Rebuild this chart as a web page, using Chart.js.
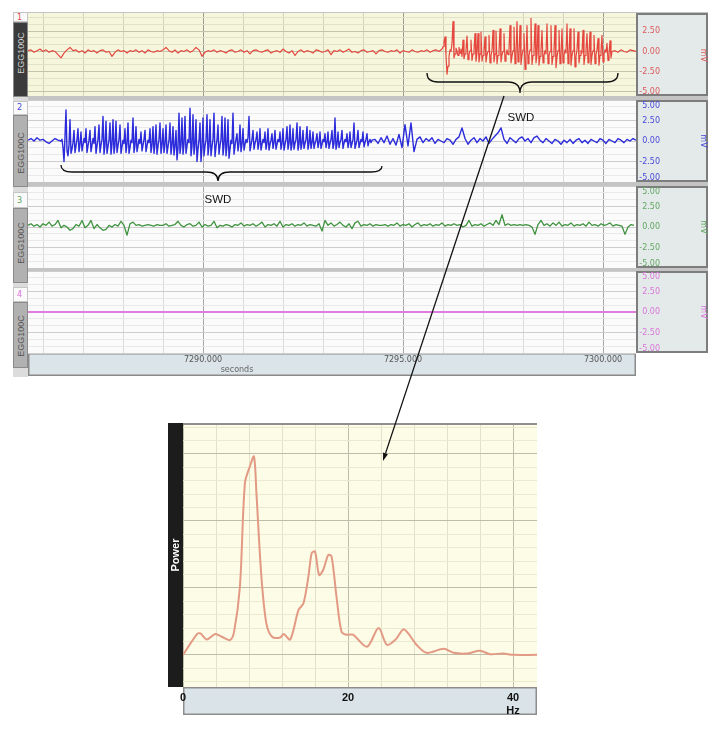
<!DOCTYPE html>
<html>
<head>
<meta charset="utf-8">
<script src="https://cdn.jsdelivr.net/npm/chart.js@4.4.1/dist/chart.umd.min.js"></script>
<style>
	html, body { margin: 0; padding: 0; background: #fff; }
	#wrap { position: relative; width: 724px; height: 729px; overflow: hidden; font-family: 'DejaVu Sans', sans-serif; }
	#wrap canvas { position: absolute; }
	.abs { position: absolute; }
	#top-bg { left: 28px; top: 12px; width: 680px; height: 341px; background: #c4c4c4; }
	#left-col { left: 13px; top: 12px; width: 15px; height: 365px; background: #dcdcdc; }
	.num { left: 13px; width: 15px; background: #fafafa; font-size: 8px; text-indent: 3px; box-sizing: border-box; border: 1px solid #c6c6c6; }
	.bar { left: 13px; width: 15px; box-sizing: border-box; border: 1px solid #8a8a8a; background: #b1b1b1; color: #555; }
	.bar.dark { background: #3b3b3b; color: #d4d4d4; }
	.bar span { position: absolute; left: 50%; white-space: nowrap; font-family: 'Liberation Sans', Arial, sans-serif; font-size: 9px; transform: translate(-50%, -50%) rotate(-90deg); }
	#secs { left: 237px; top: 365px; font-size: 8px; color: #666; transform: translateX(-50%); }
	#notes { position: absolute; left: 0; top: 0; }
</style>
</head>
<body>
<div id="wrap">
	<div id="top-bg" class="abs"></div>
	<div id="left-col" class="abs"></div>

	<div class="abs num" style="top:12px;height:10px;line-height:9px;color:#d94a4a">1</div>
	<div class="abs bar dark" style="top:22px;height:75px"><span style="top:30px">EGG100C</span></div>
	<div class="abs num" style="top:101px;height:14px;line-height:12px;color:#4747d8">2</div>
	<div class="abs bar" style="top:115px;height:72px"><span style="top:37px">EGG100C</span></div>
	<div class="abs num" style="top:192px;height:16px;line-height:15px;color:#5aa35a">3</div>
	<div class="abs bar" style="top:208px;height:75px"><span style="top:34px">EGG100C</span></div>
	<div class="abs num" style="top:287px;height:15px;line-height:14px;color:#d872d8">4</div>
	<div class="abs bar" style="top:302px;height:66px"><span style="top:33px">EGG100C</span></div>

	<canvas id="ch1" width="680" height="83" style="left:28px;top:13px"></canvas>
	<canvas id="ch2" width="680" height="82" style="left:28px;top:100px"></canvas>
	<canvas id="ch3" width="680" height="82" style="left:28px;top:186px"></canvas>
	<canvas id="ch4" width="680" height="105" style="left:28px;top:271px"></canvas>
	<div id="secs" class="abs">seconds</div>

	<canvas id="spec" width="369" height="292" style="left:168px;top:423px"></canvas>

	<svg id="notes" width="724" height="729">
		<g fill="none" stroke="#111" stroke-width="1.3">
			<path d="M427,73 Q427,82 438,82 L508,82 Q520,82 520,93 Q520,82 532,82 L607,82 Q618,82 618,73"/>
			<path d="M61,165 Q61,172 72,172 L206,172 Q218,172 218,181 Q218,172 230,172 L371,172 Q382,172 382,166"/>
			<line x1="504" y1="96" x2="385.5" y2="453.4"/>
		</g>
		<polygon points="383,461 387.9,454.2 383.1,452.6" fill="#111"/>
		<text x="521" y="121" font-family="Liberation Sans, Arial, sans-serif" font-size="11.5" text-anchor="middle" fill="#111">SWD</text>
		<text x="218" y="203" font-family="Liberation Sans, Arial, sans-serif" font-size="11.5" text-anchor="middle" fill="#111">SWD</text>
	</svg>
</div>

<script>
const T_MIN = 7285.625;
const T_MAX = 7300.825;
const timeTicks = [7290, 7295, 7300];
const mvTicks = [5, 2.5, 0, -2.5, -5];

// channel 1 (red)
const ch1BaseStart = 7285.625, ch1BaseStep = 0.075;
const ch1Base = [
	0.1, 0.2, -0.1, 0.1, 0.3, 0.0, 0.2, -0.1, 0.1, 0.0,
	-0.4, -0.8, -0.2, 0.2, 0.5, 0.1, 0.2, -0.1, 0.1, -0.2,
	0.2, 0.0, 0.1, -0.2, 0.1, 0.2, -0.1, 0.0, -0.6, -0.1,
	0.2, 0.0, 0.1, -0.2, 0.1, 0.0, 0.2, -0.1, 0.1, -0.2,
	0.2, 0.0, -0.1, 0.1, 0.0, 0.2, 0.5, 0.1, -0.1, 0.2,
	-0.2, 0.1, 0.0, 0.2, -0.1, 0.1, 0.5, 0.2, -0.6, -0.1,
	0.1, 0.0, 0.2, -0.1, 0.1, 0.0, -0.2, 0.1, 0.2, -0.1,
	0.0, 0.2, -0.1, 0.1, -0.3, 0.1, 0.2, 0.0, -0.1, 0.1,
	0.2, -0.2, 0.0, 0.1, -0.1, 0.3, 0.0, -0.2, 0.1, -0.5,
	0.0, 0.2, -0.1, 0.1, 0.0, -0.2, 0.2, 0.1, -0.1, 0.0,
	0.2, -0.4, 0.1, 0.0, 0.2, -0.1, 0.1, 0.3, -0.1, 0.0,
	-0.2, 0.1, 0.2, -0.1, 0.0, 0.1, -0.3, 0.1, 0.2, 0.0,
	-0.1, 0.1, 0.0, 0.2, -0.2, 0.1, 0.0, -0.1, 0.2, 0.0,
	-0.1, 0.1, 0.0, 0.2, -0.1, 0.1, 0.2, 0.0, 0.3
];
const ch1SwdStart = 7296.0, ch1SwdStep = 0.025;
const ch1Swd = [
	0.6, 1.2, 1.8, -0.5, -2.8, -1.8, -0.6, 0.2, 0.0, 1.0,
	3.7, -0.8, -0.3, 0.4, 0.1, -0.5, 0.5, -0.2, 0.3, -0.6,
	1.4, -0.9, -0.3, 0.2, 1.9, -1.0, -0.4, 0.1, 1.4, -1.1, -0.3, 0.2,
	2.2, -1.2, -0.2, 2.2, -1.3, -0.3, 2.4, -1.2, -0.5, 0.1,
	1.8, -1.3, -0.4, 0.0, 2.0, -1.4, -0.5, 0.1, 2.6, -1.3, -0.3,
	2.5, -1.5, -0.5, 0.1, 2.8, -1.3, -0.4, 0.0, 2.2, -1.2, -0.5, 0.2, -0.4, 0.3,
	3.2, -1.4, -0.6, 0.1, 3.0, -1.5, -0.4, 3.7, -1.3, -0.5,
	3.2, -1.6, -0.5, 0.2, 2.2, -2.2, -0.8, 3.2, -1.5, -0.5, 0.2,
	4.1, -1.6, -0.5, 0.1, 3.4, -1.4, -0.4, 3.2, -1.7, -0.6, 0.2,
	2.6, -1.4, -0.5, 0.1, -0.3, 3.4, -1.5, -0.5, 0.0, 3.2, -1.6, -0.6, 0.2,
	3.2, -2.0, -0.7, 0.1, 2.6, -1.5, -0.4, 2.8, -1.4, -0.5, 0.2, -0.2,
	3.4, -1.5, -0.4, 2.8, -1.7, -0.5, 0.1, 2.8, -1.9, -0.6, 0.2,
	2.4, -1.4, -0.5, 0.1, -0.2, 2.6, -1.6, -0.5, 0.2, 2.2, -1.4, -0.4,
	2.4, -1.6, -0.5, 0.1, 2.0, -1.5, -0.4, 0.2, 1.6, -1.7, -0.5, 0.1,
	2.0, -1.3, -0.4, 0.2, -0.1, 1.0, -1.1, -0.3, 1.3, -0.8, 0.0
];
const ch1TailStart = 7300.3, ch1TailStep = 0.075;
const ch1Tail = [0.1, -0.1, 0.2, 0.0, -0.1, 0.2, 0.1, 0.0];

// channel 2 (blue)
const ch2HeadStart = 7285.625, ch2HeadStep = 0.075;
const ch2Head = [0.1, 0.3, 0.0, 0.4, 0.1, 0.2, -0.1, -0.3, 0.0, 0.3, 0.1, 0.0];
const ch2SwdStart = 7286.475, ch2SwdStep = 0.025;
const ch2Swd = [
	0.2, -0.8, -2.5, 0.5, 3.8, -1.2, -1.8, -0.5, 2.6, -1.5,
	-1.0, -0.2, 1.3, -1.4, -0.6, 0.2, 1.5, -1.3, -0.4, 1.1,
	-1.2, -0.5, 0.3, -0.2, 1.5, -1.4, -0.6, 0.1, 1.3, -1.3,
	-0.5, 0.3, -0.3, 1.75, -1.5, -0.6, 0.2, 1.95, -1.4, -0.5,
	0.2, 3.0, -1.6, -0.5, 2.4, -1.5, -0.7, 0.1, 2.2, -1.6,
	-0.4, 2.6, -1.5, -0.5, 2.4, -1.4, -0.6, 0.2, 1.95, -1.5,
	-0.7, 0.1, -0.3, 1.5, -1.4, -0.4, 2.2, -1.5, -0.8, 0.1,
	-0.2, 2.8, -1.4, -0.5, 1.75, -1.3, -0.6, 0.2, -0.3, 1.1,
	-1.2, -0.5, 0.2, 1.3, -1.3, -0.6, 0.1, -0.2, 1.5, -1.4,
	-0.5, 1.75, -1.5, -0.4, 1.95, -1.6, -0.6, 0.2, 2.2, -1.5,
	-0.5, 1.5, -1.4, -0.4, 1.95, -1.5, -0.7, 0.1, 2.2, -1.6,
	-0.5, 1.75, -1.7, -0.6, 1.3, -2.3, -0.9, 3.4, -1.5, -0.5,
	2.8, -1.6, -0.4, 3.0, -1.5, -0.6, 0.2, -0.2, 4.0, -1.8,
	-0.6, 3.2, -1.6, -0.5, 2.6, -2.5, -1.0, 0.1, 2.2, -2.5,
	-0.8, 2.8, -1.8, -0.6, 0.1, 3.2, -1.7, -0.6, 2.6, -1.8,
	-0.7, 0.2, 3.4, -1.9, -0.7, 0.1, 1.95, -1.6, -0.6, 0.2,
	3.0, -1.7, -0.5, 2.8, -1.8, -0.6, 2.6, -2.1, -1.0, 0.1,
	-0.3, 3.4, -1.6, -0.6, 0.2, 0.9, -1.2, -0.3, 1.95, -1.3,
	-0.4, 1.5, -1.1, -0.4, 0.2, -0.2, 0.4, 3.0, -1.2, -0.5,
	0.2, 1.3, -1.0, -0.3, 0.2, 1.1, -1.0, -0.3, 1.5, -1.1,
	-0.4, 0.2, -0.2, 1.1, -1.0, -0.3, 1.5, -1.1, -0.4, 0.1,
	0.9, -0.9, -0.2, 1.3, -1.0, -0.4, 0.2, -0.1, 1.1, -1.0,
	-0.3, 1.5, -1.1, -0.4, 0.2, 1.75, -1.0, -0.3, 1.95, -1.1,
	-0.4, 1.5, -1.0, -0.3, 0.2, 2.2, -1.1, -0.4, 1.75, -1.0,
	-0.3, 1.3, -0.9, -0.3, 0.2, 1.75, -1.0, -0.3, 1.3, -0.9,
	-0.2, 1.1, -0.9, -0.3, 0.1, 0.9, -0.8, -0.2, 1.1, -0.9,
	-0.4, 0.2, -0.1, 0.9, -0.8, -0.2, 1.1, -0.9, -0.3, 0.2,
	1.3, -0.9, -0.3, 2.8, -1.0, -0.4, 1.1, -0.8, -0.2, 0.2,
	1.3, -0.9, -0.3, 0.2, -0.1, 0.9, -0.8, -0.2, 1.1, -0.8,
	-0.3, 0.2, 2.2, -0.9, -0.4, 0.1, 1.3, -0.8, -0.3, 0.2,
	-0.1, 1.1, -0.7, -0.2, 0.2, 0.9, -0.6, -0.1, 0.2, -0.2,
	0.1
];
const ch2TailStart = 7294.3, ch2TailStep = 0.075;
const ch2Tail = [
	0.2, -0.3, 0.4, -0.2, 0.6, -0.4, 0.3, -0.5, 0.8, -0.8,
	2.0, -0.6, 2.2, -1.3, 0.2, 0.5, -0.2, 0.3, 0.0, 0.4,
	-0.3, 0.2, 0.0, -0.2, 0.3, 0.1, -0.4, 0.2, 0.5, 1.6,
	0.3, -0.4, 0.1, 0.4, -0.2, 0.3, 0.0, 0.5, -0.3, 0.2,
	0.6, 1.0, 1.6, 0.2, -0.3, 0.4, 0.1, -0.2, 0.3, 0.5,
	0.0, 0.3, -0.2, 0.4, 0.6, 0.1, -0.2, 0.3, 0.0, -0.3,
	0.2, 0.0, -0.4, 0.1, -0.2, 0.2, -0.3, 0.1, 0.3, -0.2,
	0.1, -0.3, 0.2, 0.0, -0.2, 0.3, 0.1, -0.3, 0.2, 0.0,
	-0.2, 0.3, 0.1, -0.2, 0.2, 0.0, 0.3, 0.1
];

// channel 3 (green)
const ch3Start = 7285.625, ch3Step = 0.075;
const ch3Values = [
	0.2, 0.4, 0.1, 0.3, 0.0, 0.4, 0.2, 0.6, 0.1, 0.3,
	0.8, -0.1, 0.2, 0.0, -0.4, -0.2, 0.3, 0.1, 0.8, -0.1,
	0.2, 0.8, -0.2, 0.3, -0.1, -0.4, -0.3, 0.2, 0.0, 0.3,
	0.1, 0.7, 0.2, -1.0, 0.4, 0.6, 0.2, 0.3, 0.1, 0.2,
	0.3, 0.2, 0.1, 0.3, 0.2, 0.2, 0.4, 0.1, 0.2, 0.3,
	0.7, 0.2, 0.0, 0.3, 0.4, 0.1, 0.2, 0.6, 0.0, 0.3,
	0.1, 0.2, 0.7, -0.1, 0.2, 0.1, 0.3, 0.2, 0.0, 0.3,
	0.2, 0.5, 0.1, 0.3, 0.2, 0.4, 0.1, 0.3, 0.6, 0.0,
	0.3, 0.2, 0.4, 0.1, 0.7, 0.0, 0.3, 0.2, 0.4, 0.1,
	0.3, 0.2, 0.5, 0.1, 0.3, 0.2, 0.1, 0.4, -0.5, 0.8,
	0.2, 0.5, 0.1, 0.3, 0.6, 0.2, 0.0, 0.4, -0.2, 0.5,
	0.7, 0.1, 0.3, 0.2, 0.4, 0.1, 0.3, 0.2, 0.2, 0.3,
	0.1, 0.3, 0.2, 0.5, 0.1, 0.3, 0.2, 0.4, 0.0, 0.3,
	0.5, 0.1, 0.3, 0.2, 0.4, 0.1, 0.3, 0.2, 0.5, 0.1,
	0.3, 0.2, 0.4, 0.2, 0.3, 0.0, 0.2, 0.8, 0.1, 0.3,
	0.2, 0.4, 0.1, 0.3, 0.5, 0.2, 0.8, 0.3, 1.5, 0.2,
	0.4, 0.2, 0.3, 0.2, 0.3, 0.2, 0.3, 0.2, 0.0, -0.9,
	0.3, 0.8, 0.2, 0.4, 0.1, 0.5, 0.2, 0.6, 0.1, 0.3,
	0.2, 0.5, 0.1, 0.3, 0.2, 0.4, 0.1, 0.6, 0.2, 0.3,
	0.1, 0.4, 0.2, 0.3, 0.5, 0.1, 0.3, 0.2, 0.1, -0.9,
	0.0, 0.3, 0.2
];

// channel 4 (magenta, flat)
const ch4Times = [T_MIN, T_MAX];
const ch4Values = [0, 0];

// power spectrum of the SWD
const hzValues = [0, 1.7, 2.1, 2.9, 3.9, 4.7, 5.7, 6.2, 6.9, 7.5, 8.1, 8.6, 8.9, 9.5, 10.1, 10.8, 11.8, 12.2, 13.0, 14.0, 14.6, 15.2, 15.6, 16.0, 16.5, 17.0, 17.6, 18.0, 18.6, 19.2, 19.8, 20.6, 22.3, 23.7, 24.7, 25.7, 26.7, 27.3, 28.3, 29.5, 31.6, 32.8, 34.4, 36.0, 37.2, 38.8, 40.0, 42.9];
const powerValues = [0, 0.31, 0.32, 0.23, 0.31, 0.27, 0.22, 0.35, 1.02, 2.56, 2.81, 2.96, 2.41, 1.17, 0.47, 0.27, 0.26, 0.31, 0.23, 0.67, 0.77, 1.17, 1.52, 1.54, 1.19, 1.27, 1.49, 1.47, 0.87, 0.35, 0.30, 0.30, 0.12, 0.40, 0.15, 0.22, 0.38, 0.32, 0.15, 0.03, 0.09, 0.03, 0.02, 0.06, 0.01, 0.02, 0, 0];
const hzTicks = [0, 20, 40];

const seg = (t0, dt, vals) => vals.map((v, i) => ({x: t0 + i * dt, y: v}));
const isMajor = (v, step) => Math.abs(v / step - Math.round(v / step)) < 1e-6;
// grid positions: every k*step inside [min, max]
const gridSteps = (min, max, step) => {
	const out = [];
	for (let k = Math.ceil(min / step - 1e-9); k * step <= max + 1e-9; k++) out.push({value: k * step});
	return out;
};

const panelPlugin = {
	id: 'panel',
	beforeDraw: (chart, args, o) => {
		const {ctx, chartArea: a, width, height} = chart;
		ctx.save();
		ctx.fillStyle = o.bg;
		ctx.fillRect(a.left, a.top, a.right - a.left, a.bottom - a.top);
		ctx.fillStyle = '#e4e9ea';
		ctx.fillRect(a.right, a.top, width - a.right, a.bottom - a.top);
		ctx.strokeStyle = '#7d7d7d';
		ctx.lineWidth = 2;
		ctx.strokeRect(a.right + 1, a.top + 1, width - a.right - 2, a.bottom - a.top - 2);
		if (o.band) {
			ctx.fillStyle = '#dbe4e8';
			ctx.fillRect(a.left, a.bottom, a.right - a.left, height - a.bottom);
			ctx.strokeStyle = '#8a8a8a';
			ctx.lineWidth = 1.5;
			ctx.strokeRect(a.left + 0.75, a.bottom + 0.75, a.right - a.left - 1.5, height - a.bottom - 1.5);
		}
		ctx.restore();
	},
	afterDraw: (chart, args, o) => {
		const {ctx, chartArea: a} = chart;
		const y = chart.scales.y;
		ctx.save();
		ctx.font = '8px "DejaVu Sans"';
		ctx.fillStyle = o.label;
		ctx.textAlign = 'right';
		ctx.textBaseline = 'middle';
		mvTicks.forEach(v => {
			if (v > y.max || v < y.min) return;
			const py = Math.min(Math.max(y.getPixelForValue(v), a.top + 6), a.bottom - 4);
			ctx.fillText(v.toFixed(2), a.right + 24, py);
		});
		ctx.translate(a.right + 67, y.getPixelForValue(0) + (o.mvShift || 0));
		ctx.rotate(Math.PI / 2);
		ctx.textAlign = 'center';
		ctx.fillText('mV', 0, 0);
		ctx.restore();
	}
};

const makeChannel = (id, points, o) => new Chart(document.getElementById(id), {
	type: 'line',
	data: {
		datasets: [{
			data: points,
			borderColor: o.color,
			borderWidth: o.width,
			pointRadius: 0,
			tension: 0,
			borderJoinStyle: 'round'
		}]
	},
	options: {
		responsive: false,
		animation: false,
		events: [],
		layout: {padding: 0},
		plugins: {
			legend: {display: false},
			tooltip: {enabled: false},
			panel: o
		},
		scales: {
			x: {
				type: 'linear',
				min: T_MIN,
				max: T_MAX,
				border: {display: false},
				afterBuildTicks: s => { s.ticks = gridSteps(T_MIN, T_MAX, 1); },
				grid: {
					drawTicks: false,
					color: c => c.tick.value % 5 === 0 ? o.vMajor : o.vMinor
				},
				ticks: {
					display: !!o.band,
					autoSkip: false,
					maxRotation: 0,
					padding: 2,
					color: '#555',
					font: {family: 'DejaVu Sans', size: 8},
					callback: v => timeTicks.includes(v) ? v.toFixed(3) : ''
				},
				afterFit: s => { s.height = o.band ? 23 : 0; }
			},
			y: {
				position: 'right',
				min: o.min,
				max: o.max,
				border: {display: false},
				afterBuildTicks: s => { s.ticks = gridSteps(o.min, o.max, 2.5 / 3); },
				grid: {
					drawTicks: false,
					color: c => isMajor(c.tick.value, 2.5) ? o.hMajor : o.hMinor
				},
				ticks: {display: false},
				afterFit: s => { s.width = 72; }
			}
		}
	},
	plugins: [panelPlugin]
});

makeChannel('ch1', [
	...seg(ch1BaseStart, ch1BaseStep, ch1Base),
	...seg(ch1SwdStart, ch1SwdStep, ch1Swd),
	...seg(ch1TailStart, ch1TailStep, ch1Tail)
], {
	color: '#e5473f', width: 1.2, label: '#dd5a5a', min: -5.5, max: 4.75, mvShift: 4,
	bg: '#f6f6dd', vMajor: '#9c9c94', vMinor: '#d3d3bd', hMajor: '#c4c4ad', hMinor: '#e2e2cc'
});

makeChannel('ch2', [
	...seg(ch2HeadStart, ch2HeadStep, ch2Head),
	...seg(ch2SwdStart, ch2SwdStep, ch2Swd),
	...seg(ch2TailStart, ch2TailStep, ch2Tail)
], {
	color: '#2b2bdc', width: 1.4, label: '#4a4adc', min: -5, max: 5,
	bg: '#fbfbfb', vMajor: '#a6a6a6', vMinor: '#dadada', hMajor: '#cdcdcd', hMinor: '#e9e9e9'
});

makeChannel('ch3', seg(ch3Start, ch3Step, ch3Values), {
	color: '#3f933f', width: 1.3, label: '#62a862', min: -5, max: 5,
	bg: '#fbfbfb', vMajor: '#a6a6a6', vMinor: '#dadada', hMajor: '#cdcdcd', hMinor: '#e9e9e9'
});

makeChannel('ch4', ch4Times.map((t, i) => ({x: t, y: ch4Values[i]})), {
	color: '#e07ce0', width: 2, label: '#d877d8', min: -5, max: 5, band: true,
	bg: '#fbfbfb', vMajor: '#a6a6a6', vMinor: '#dadada', hMajor: '#cdcdcd', hMinor: '#e9e9e9'
});

const specPlugin = {
	id: 'specFrame',
	beforeDraw: chart => {
		const {ctx, chartArea: a, height} = chart;
		ctx.save();
		ctx.fillStyle = '#fcfce7';
		ctx.fillRect(a.left, a.top, a.right - a.left, a.bottom - a.top);
		ctx.fillStyle = '#1c1c1c';
		ctx.fillRect(0, a.top, a.left, a.bottom - a.top);
		ctx.fillStyle = '#dae4e8';
		ctx.fillRect(a.left, a.bottom, a.right - a.left, height - a.bottom);
		ctx.strokeStyle = '#8d8d8d';
		ctx.lineWidth = 1.5;
		ctx.strokeRect(a.left + 0.75, a.bottom + 0.75, a.right - a.left - 1.5, height - a.bottom - 1.5);
		ctx.restore();
	},
	afterDatasetsDraw: chart => {
		const {ctx, chartArea: a} = chart;
		ctx.save();
		ctx.strokeStyle = '#8f8f8f';
		ctx.lineWidth = 2;
		ctx.beginPath();
		ctx.moveTo(a.left, a.top + 1);
		ctx.lineTo(a.right, a.top + 1);
		ctx.stroke();
		ctx.restore();
	}
};

new Chart(document.getElementById('spec'), {
	type: 'line',
	data: {
		datasets: [{
			data: hzValues.map((f, i) => ({x: f, y: powerValues[i]})),
			borderColor: '#e29a84',
			borderWidth: 2,
			pointRadius: 0,
			tension: 0.3
		}]
	},
	options: {
		responsive: false,
		animation: false,
		events: [],
		layout: {padding: 0},
		plugins: {
			legend: {display: false},
			tooltip: {enabled: false}
		},
		scales: {
			x: {
				type: 'linear',
				min: 0,
				max: 42.9,
				border: {display: false},
				afterBuildTicks: s => { s.ticks = gridSteps(0, 40, 4); },
				grid: {
					drawTicks: false,
					color: c => c.tick.value % 20 === 0 ? '#bebda9' : '#e2e2c9'
				},
				ticks: {
					autoSkip: false,
					maxRotation: 0,
					padding: 4,
					color: '#111',
					font: {family: 'Liberation Sans', size: 11, weight: 'bold'},
					callback: v => v === 40 ? ['40', 'Hz'] : hzTicks.includes(v) ? String(v) : ''
				},
				afterFit: s => { s.height = 28; }
			},
			y: {
				min: -0.48,
				max: 3.46,
				border: {display: false},
				afterBuildTicks: s => { s.ticks = gridSteps(-0.4, 3.4, 0.2); },
				grid: {
					drawTicks: false,
					color: c => isMajor(c.tick.value, 1) ? '#bebda9' : '#eaead1'
				},
				ticks: {display: false},
				title: {
					display: true,
					text: 'Power',
					color: '#fff',
					font: {family: 'Liberation Sans', size: 11, weight: 'bold'},
					padding: {top: 1, bottom: 0}
				},
				afterFit: s => { s.width = 15; }
			}
		}
	},
	plugins: [specPlugin]
});
</script>
</body>
</html>
